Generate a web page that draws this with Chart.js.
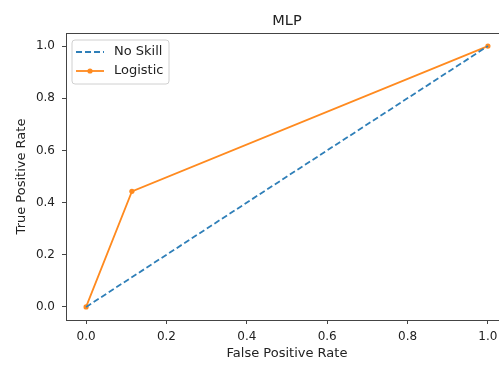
<!DOCTYPE html>
<html>
<head>
<meta charset="utf-8">
<script src="https://cdn.jsdelivr.net/npm/chart.js@4"></script>
<style>
  html, body { margin: 0; padding: 0; background: #fff; overflow: hidden; width: 499px; height: 365px; }
  #wrap { position: absolute; left: 0; top: 0; width: 520px; height: 365px; }
</style>
</head>
<body>
<div id="wrap"><canvas id="c" width="520" height="365"></canvas></div>
<script>
// ---- data ----
const chartTitle = "MLP";
const xAxisTitle = "False Positive Rate";
const yAxisTitle = "True Positive Rate";
const seriesNames = ["No Skill", "Logistic"];
const noSkillFpr = [0, 1];
const noSkillTpr = [0, 1];
const logisticFpr = [0, 0.114, 1];
const logisticTpr = [0, 0.443, 1];
const xTicks = [0.0, 0.2, 0.4, 0.6, 0.8, 1.0];
const yTicks = [0.0, 0.2, 0.4, 0.6, 0.8, 1.0];

const BLUE = '#2f7fb8';
const ORANGE = '#ff8a1f';
const FONT = "'DejaVu Sans', Verdana, sans-serif";

const toXY = (xs, ys) => xs.map((x, i) => ({x: x, y: ys[i]}));

const framePlugin = {
  id: 'frame',
  afterDatasetsDraw(chart) {
    const {ctx, chartArea: a} = chart;
    ctx.save();
    ctx.strokeStyle = '#444';
    ctx.lineWidth = 1;
    ctx.strokeRect(Math.round(a.left) + 0.5, Math.round(a.top) + 0.5,
                   Math.round(a.right - a.left), Math.round(a.bottom - a.top));
    // title
    ctx.fillStyle = '#222';
    ctx.font = "14.5px " + FONT;
    ctx.textAlign = 'center';
    ctx.textBaseline = 'middle';
    ctx.fillText(chartTitle, (a.left + a.right) / 2, 21);

    // legend
    const bx = a.left + 6, by = a.top + 7, bw = 97, bh = 44, r = 3;
    ctx.beginPath();
    ctx.moveTo(bx + r, by);
    ctx.arcTo(bx + bw, by, bx + bw, by + bh, r);
    ctx.arcTo(bx + bw, by + bh, bx, by + bh, r);
    ctx.arcTo(bx, by + bh, bx, by, r);
    ctx.arcTo(bx, by, bx + bw, by, r);
    ctx.closePath();
    ctx.fillStyle = 'rgba(255,255,255,0.85)';
    ctx.fill();
    ctx.strokeStyle = '#d0d0d0';
    ctx.lineWidth = 1;
    ctx.stroke();

    const ds = chart.data.datasets;
    const rows = [by + 12, by + 31];
    ds.forEach((d, i) => {
      const y = rows[i];
      ctx.save();
      ctx.strokeStyle = d.borderColor;
      ctx.lineWidth = d.borderWidth;
      ctx.setLineDash(d.borderDash || []);
      ctx.beginPath();
      ctx.moveTo(bx + 4, y);
      ctx.lineTo(bx + 32, y);
      ctx.stroke();
      ctx.restore();
      if (d.pointRadius > 0) {
        ctx.beginPath();
        ctx.fillStyle = d.borderColor;
        ctx.arc(bx + 18, y, d.pointRadius, 0, Math.PI * 2);
        ctx.fill();
      }
      ctx.fillStyle = '#222';
      ctx.font = "13px " + FONT;
      ctx.textAlign = 'left';
      ctx.textBaseline = 'middle';
      ctx.fillText(d.label, bx + 42, y);
    });
    ctx.restore();
  }
};

new Chart(document.getElementById('c'), {
  type: 'line',
  data: {
    datasets: [
      {
        label: seriesNames[0],
        data: toXY(noSkillFpr, noSkillTpr),
        borderColor: BLUE,
        backgroundColor: BLUE,
        borderWidth: 1.8,
        borderDash: [6, 3],
        pointRadius: 0,
        tension: 0,
        fill: false
      },
      {
        label: seriesNames[1],
        data: toXY(logisticFpr, logisticTpr),
        borderColor: ORANGE,
        backgroundColor: ORANGE,
        pointBackgroundColor: ORANGE,
        pointBorderColor: ORANGE,
        borderWidth: 1.8,
        pointRadius: 2.6,
        pointBorderWidth: 0,
        tension: 0,
        fill: false
      }
    ]
  },
  options: {
    responsive: false,
    animation: false,
    devicePixelRatio: 1,
    layout: { padding: { top: 33, right: 12, left: 0, bottom: 0 } },
    plugins: {
      legend: { display: false },
      title: { display: false },
      tooltip: { enabled: false }
    },
    scales: {
      x: {
        type: 'linear',
        min: -0.05,
        max: 1.05,
        afterBuildTicks: s => { s.ticks = xTicks.map(v => ({value: v})); },
        afterFit: s => { s.height = 45; },
        border: { display: false },
        grid: { drawOnChartArea: false, drawTicks: true, tickLength: 4, color: '#444', tickColor: '#444' },
        ticks: {
          padding: 6,
          color: '#222',
          font: { family: FONT, size: 12 },
          callback: v => Number(v).toFixed(1),
          maxRotation: 0
        },
        title: {
          display: true,
          text: xAxisTitle,
          color: '#222',
          font: { family: FONT, size: 13 },
          padding: { top: 0, bottom: 4 }
        }
      },
      y: {
        type: 'linear',
        min: -0.05,
        max: 1.05,
        afterBuildTicks: s => { s.ticks = yTicks.map(v => ({value: v})); },
        afterFit: s => { s.width = 66; },
        border: { display: false },
        grid: { drawOnChartArea: false, drawTicks: true, tickLength: 4, color: '#444', tickColor: '#444' },
        ticks: {
          padding: 7,
          color: '#222',
          font: { family: FONT, size: 12 },
          callback: v => Number(v).toFixed(1)
        },
        title: {
          display: true,
          text: yAxisTitle,
          color: '#222',
          font: { family: FONT, size: 13 },
          padding: { top: 14, bottom: 0 }
        }
      }
    }
  },
  plugins: [framePlugin]
});
</script>
</body>
</html>
